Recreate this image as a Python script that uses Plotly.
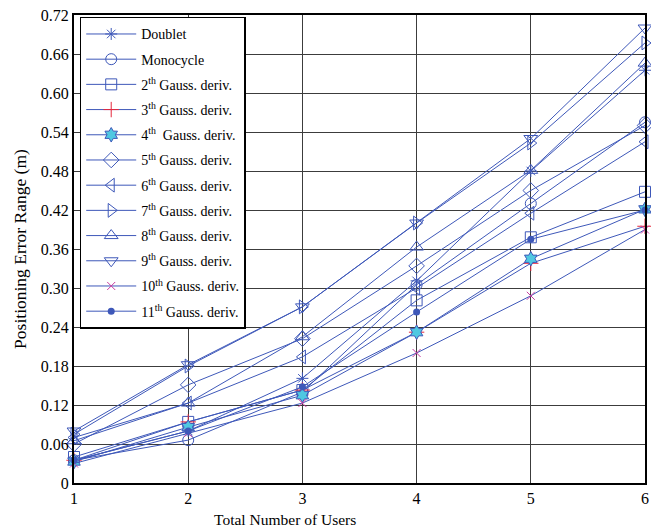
import plotly.graph_objects as go

# Number of users on the horizontal axis
users = [1, 2, 3, 4, 5, 6]

# Positioning error range (m) for each pulse shape
doublet = [0.035, 0.080, 0.161, 0.311, 0.480, 0.635]
monocycle = [0.035, 0.066, 0.140, 0.305, 0.430, 0.555]
gauss2 = [0.040, 0.094, 0.143, 0.281, 0.378, 0.448]
gauss3 = [0.035, 0.094, 0.143, 0.232, 0.338, 0.395]
gauss4 = [0.033, 0.086, 0.135, 0.232, 0.345, 0.421]
gauss5 = [0.060, 0.151, 0.222, 0.334, 0.450, 0.550]
gauss6 = [0.070, 0.123, 0.194, 0.300, 0.415, 0.525]
gauss7 = [0.075, 0.180, 0.271, 0.400, 0.523, 0.677]
gauss8 = [0.065, 0.123, 0.225, 0.363, 0.481, 0.646]
gauss9 = [0.080, 0.182, 0.271, 0.400, 0.530, 0.700]
gauss10 = [0.030, 0.077, 0.123, 0.200, 0.288, 0.390]
gauss11 = [0.035, 0.080, 0.148, 0.263, 0.375, 0.420]

y_ticks = [0, 0.06, 0.12, 0.18, 0.24, 0.30, 0.36, 0.42, 0.48, 0.54, 0.60, 0.66, 0.72]
y_tick_text = ["0", "0.06", "0.12", "0.18", "0.24", "0.30", "0.36", "0.42",
               "0.48", "0.54", "0.60", "0.66", "0.72"]

BLUE = "rgb(62,88,185)"

series = [
    ("Doublet", doublet, dict(symbol="asterisk-open", size=10, color=BLUE, line=dict(color=BLUE, width=1))),
    ("Monocycle", monocycle, dict(symbol="circle-open", size=11, color=BLUE, line=dict(color=BLUE, width=1))),
    ("2<sup>th</sup> Gauss. deriv.", gauss2, dict(symbol="square-open", size=11, color=BLUE, line=dict(color=BLUE, width=1))),
    ("3<sup>th</sup> Gauss. deriv.", gauss3, dict(symbol="cross-thin-open", size=11, color="rgb(230,40,60)", line=dict(color="rgb(230,40,60)", width=1))),
    ("4<sup>th</sup>  Gauss. deriv.", gauss4, dict(symbol="hexagram", size=11, color="rgb(80,200,225)", line=dict(color=BLUE, width=1))),
    ("5<sup>th</sup> Gauss. deriv.", gauss5, dict(symbol="diamond-open", size=12, color=BLUE, line=dict(color=BLUE, width=1))),
    ("6<sup>th</sup> Gauss. deriv.", gauss6, dict(symbol="triangle-left-open", size=12, color=BLUE, line=dict(color=BLUE, width=1))),
    ("7<sup>th</sup> Gauss. deriv.", gauss7, dict(symbol="triangle-right-open", size=12, color=BLUE, line=dict(color=BLUE, width=1))),
    ("8<sup>th</sup> Gauss. deriv.", gauss8, dict(symbol="triangle-up-open", size=12, color=BLUE, line=dict(color=BLUE, width=1))),
    ("9<sup>th</sup> Gauss. deriv.", gauss9, dict(symbol="triangle-down-open", size=12, color=BLUE, line=dict(color=BLUE, width=1))),
    ("10<sup>th</sup> Gauss. deriv.", gauss10, dict(symbol="x-thin-open", size=8, color="rgb(200,60,160)", line=dict(color="rgb(200,60,160)", width=1))),
    ("11<sup>th</sup> Gauss. deriv.", gauss11, dict(symbol="circle", size=7, color=BLUE, line=dict(color=BLUE, width=0))),
]

fig = go.Figure()
for i, (name, values, marker) in enumerate(series):
    fig.add_trace(go.Scatter(
        x=users, y=values, name=name, mode="lines+markers",
        line=dict(color=BLUE, width=1), marker=marker, cliponaxis=False,
        legendgroup=f"g{i}",
    ))

axis_font = dict(family="Liberation Serif", size=16, color="black")

fig.update_layout(
    width=651, height=531,
    margin=dict(l=74, r=2, t=15, b=48),
    paper_bgcolor="white", plot_bgcolor="white",
    font=dict(family="Liberation Serif", color="black"),
    showlegend=True,
    legend=dict(
        x=0.01, y=0.996, xanchor="left", yanchor="top",
        bgcolor="white", bordercolor="black", borderwidth=1.5,
        font=dict(family="Liberation Serif", size=14, color="black"),
        itemwidth=50, tracegroupgap=4,
    ),
    xaxis=dict(
        range=[1, 6], tickvals=users, ticktext=[str(u) for u in users],
        showgrid=True, gridcolor="rgb(60,60,60)", gridwidth=1.2,
        showline=True, linecolor="black", linewidth=2, mirror=True,
        ticks="", tickfont=axis_font, zeroline=False,
    ),
    yaxis=dict(
        range=[0, 0.72], tickvals=y_ticks, ticktext=y_tick_text,
        showgrid=True, gridcolor="rgb(60,60,60)", gridwidth=1.2,
        showline=True, linecolor="black", linewidth=2, mirror=True,
        ticks="", tickfont=axis_font, zeroline=False,
        title=dict(text="Positioning Error Range (m)",
                   font=dict(family="Liberation Serif", size=17.5, color="black"),
                   standoff=10),
    ),
    annotations=[dict(
        text="Total Number of Users", xref="paper", yref="paper",
        x=0.37, y=-0.077, xanchor="center", yanchor="middle",
        showarrow=False, font=dict(family="Liberation Serif", size=15.5, color="black"),
    )],
)

fig.write_html("out.html")
